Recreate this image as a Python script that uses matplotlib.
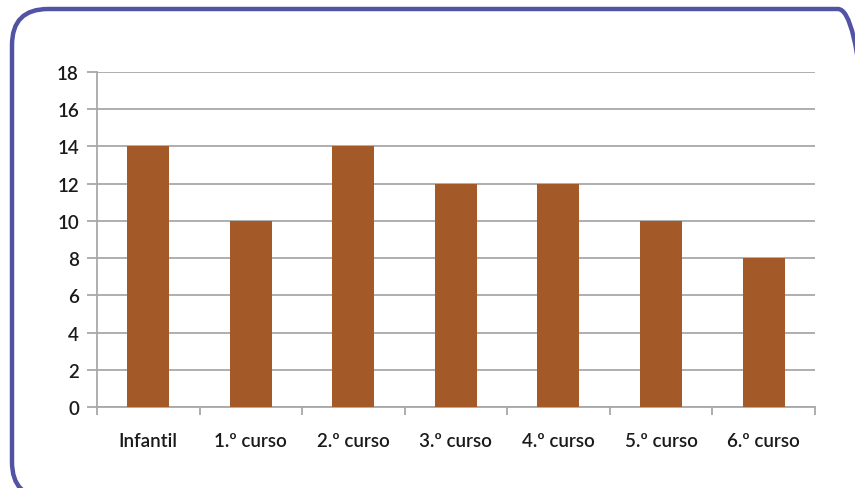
import matplotlib
matplotlib.use("Agg")
import matplotlib.pyplot as plt
from matplotlib.patches import FancyBboxPatch
from matplotlib.transforms import IdentityTransform

categorias = ["Infantil", "1.º curso", "2.º curso", "3.º curso", "4.º curso", "5.º curso", "6.º curso"]
valores = [14, 10, 14, 12, 12, 10, 8]
yticks = list(range(0, 19, 2))

plt.rcParams['font.family'] = ['Lato', 'DejaVu Sans']
plt.rcParams['font.weight'] = 'semibold'

fig = plt.figure(figsize=(8.55, 4.89), dpi=100)
fig.patch.set_facecolor("white")

# rounded frame around the chart (display pixels)
marco = FancyBboxPatch((12, -10), 862, 489, boxstyle="round,pad=0,rounding_size=36",
                       transform=IdentityTransform(), fill=False,
                       edgecolor="#5254a3", linewidth=3.2, zorder=10)
fig.patches.append(marco)

ax = fig.add_axes([0.1135, 0.1656, 0.8395, 0.6851])
x = range(len(categorias))
ax.bar(x, valores, width=0.41, color="#a35a28", zorder=3)

ax.set_xlim(-0.5, len(categorias) - 0.5)
ax.set_ylim(0, 18)
ax.set_yticks(yticks)
ax.yaxis.grid(True, color="#a8a8a8", linewidth=1.3, zorder=0)

ax.set_xticks([i - 0.5 for i in range(len(categorias) + 1)])
ax.set_xticklabels([])
ax.set_xticks(list(x), minor=True)
ax.set_xticklabels(categorias, minor=True, fontsize=13.5, color="#1a1a1a")
ax.tick_params(axis="x", which="minor", length=0, pad=18)
ax.tick_params(axis="x", which="major", length=6, width=1.3, color="#a8a8a8", direction="out")
ax.tick_params(axis="y", length=7, width=1.3, color="#a8a8a8", labelsize=13.5,
               labelcolor="#1a1a1a", pad=6)

for lado in ["top", "right"]:
    ax.spines[lado].set_visible(False)
for lado in ["left", "bottom"]:
    ax.spines[lado].set_color("#a8a8a8")
    ax.spines[lado].set_linewidth(1.3)

fig.savefig("out.png", dpi=100)
